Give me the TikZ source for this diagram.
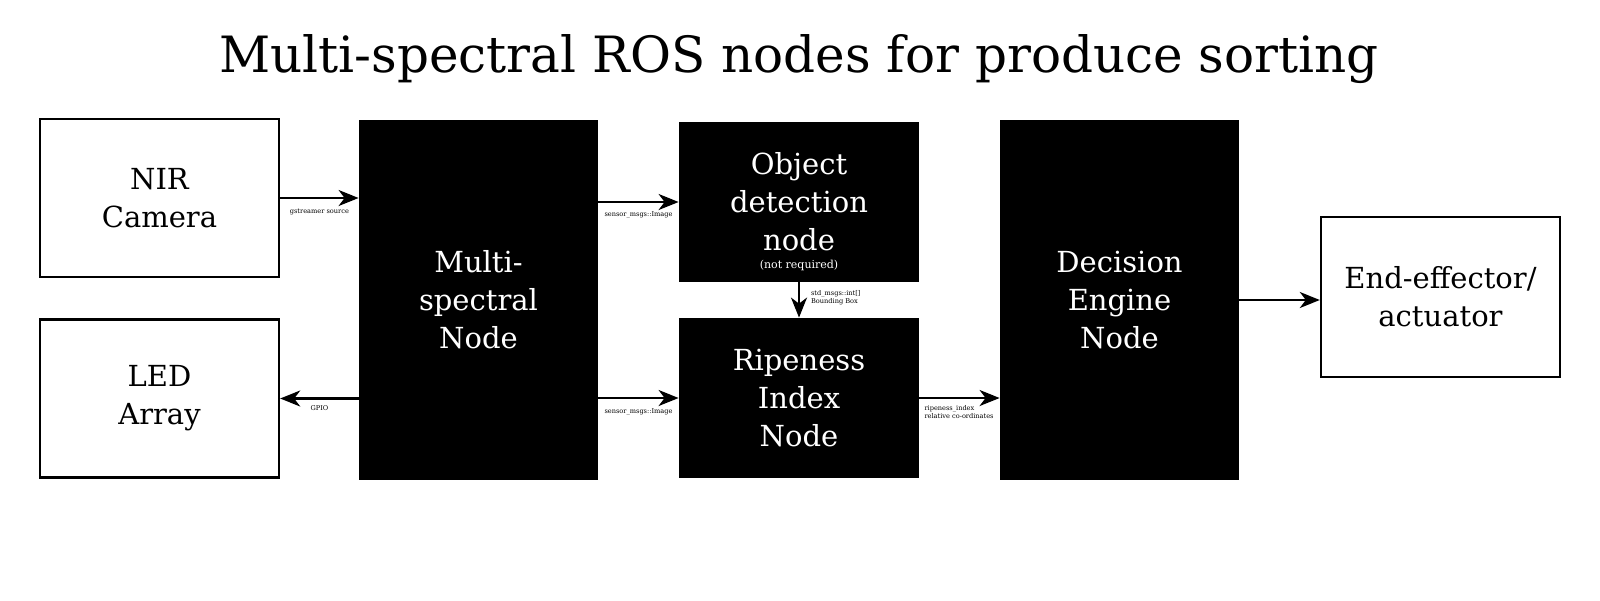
\documentclass[tikz,border=0pt]{standalone}
\usepackage{fontspec}
\setmainfont{DejaVu Serif}
\usetikzlibrary{arrows.meta}
\begin{document}
\begin{tikzpicture}[x=0.5pt,y=-0.5pt,
  wbox/.style={draw=black, line width=1.2pt, fill=white, minimum width=119.5pt, minimum height=79pt, inner sep=0pt, align=center, font=\fontsize{14.5}{19}\selectfont},
  bbox/.style={fill=black, text=white, minimum width=119.5pt, inner sep=0pt, align=center, font=\fontsize{14.5}{19}\selectfont},
  conn/.style={line width=1.1pt, -{Stealth[length=10pt,width=8pt,inset=3pt]}},
  lbl/.style={font=\fontsize{3.3}{4}\selectfont, inner sep=0pt},
]
\fill[white] (0,0) rectangle (1600,600);
\useasboundingbox (0,0) rectangle (1600,600);

\node[font=\fontsize{25}{30}\selectfont, anchor=base, inner sep=0pt] (title) at (799,72) {Multi-spectral ROS nodes for produce sorting};

\node[wbox] (nir) at (159.5,198) {NIR\\Camera};
\node[wbox] (led) at (159.5,398.5) {LED\\Array};
\node[bbox, minimum height=180pt] (ms) at (478.5,300) {Multi-\\spectral\\Node};
\node[bbox, minimum width=120pt, minimum height=80pt] (od) at (799,202) {Object\\detection\\node};
\node[text=white, font=\fontsize{5.5}{6}\selectfont, anchor=base, inner sep=0pt] (nr) at ([yshift=7pt]od.south) {(not required)};
\node[bbox, minimum width=120pt, minimum height=80pt] (ri) at (799,398) {Ripeness\\Index\\Node};
\node[bbox, minimum height=180pt] (de) at (1119.5,300) {Decision\\Engine\\Node};
\node[wbox, minimum height=80pt] (ee) at (1440.5,297) {End-effector/\\actuator};

\draw[conn] (nir.east) -- (ms.west |- nir.east) node[lbl, midway, yshift=-7pt] {gstreamer source};
\draw[conn] (ms.east |- od.west) -- (od.west) node[lbl, midway, yshift=-6.5pt] {sensor\_msgs::Image};
\draw[conn] (ms.west |- led.east) -- (led.east) node[lbl, midway, yshift=-5pt] {GPIO};
\draw[conn] (ms.east |- ri.west) -- (ri.west) node[lbl, midway, yshift=-7pt] {sensor\_msgs::Image};
\draw[conn] (od.south) -- (ri.north) node[lbl, midway, anchor=west, align=left, xshift=5.5pt, yshift=1pt] {std\_msgs::int[]\\Bounding Box};
\draw[conn] (ri.east) -- (de.west |- ri.east) node[lbl, pos=0, anchor=north west, align=left, xshift=2pt, yshift=-3pt] {ripeness\_index\\relative co-ordinates};
\draw[conn] (de.east) -- (ee.west |- de.east);
\end{tikzpicture}
\end{document}
